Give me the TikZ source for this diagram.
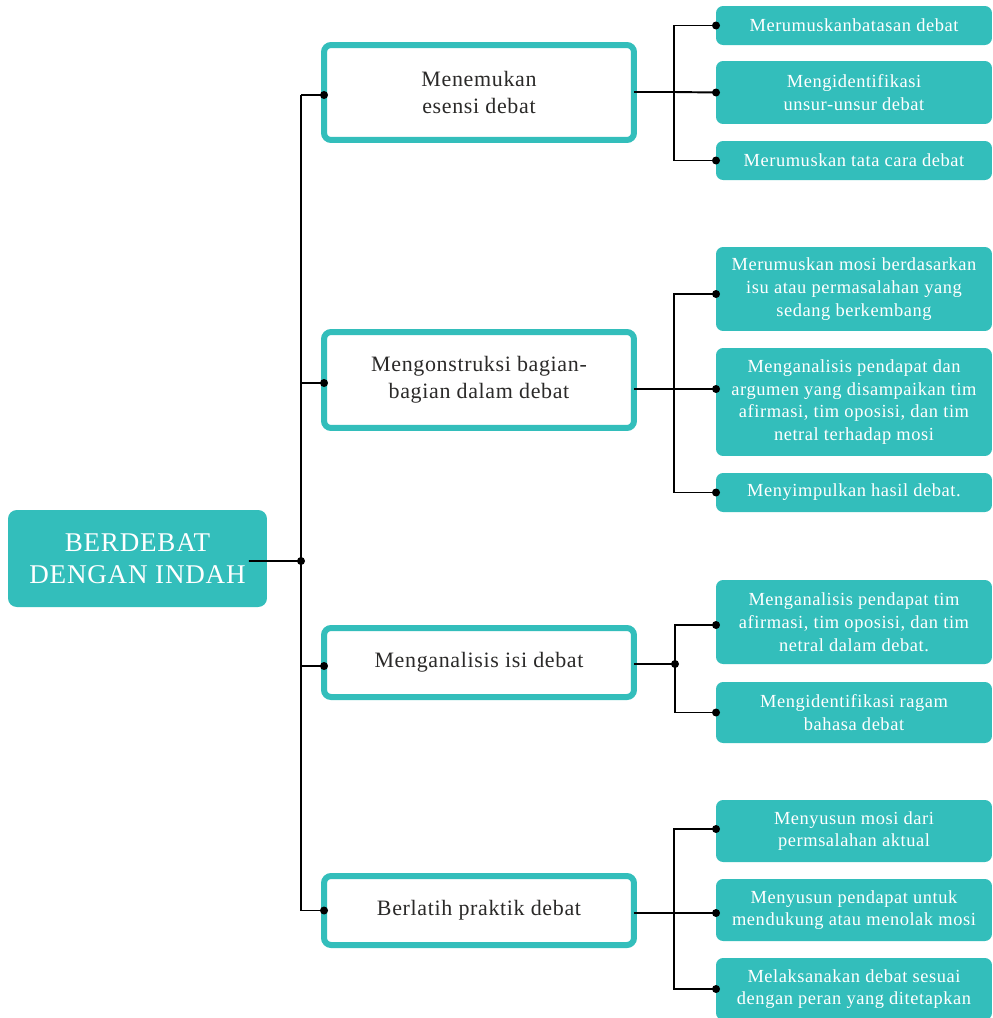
\documentclass[tikz,border=0pt]{standalone}
\usepackage{fontspec}
\setmainfont[LetterSpace=3]{Liberation Serif}
\usepackage{xcolor}
\usetikzlibrary{arrows.meta}
\definecolor{dbteal}{HTML}{33BEBB}
\definecolor{dbink}{HTML}{2B2A29}

\tikzset{
  rootbox/.style={fill=dbteal, rounded corners=5, inner sep=0pt, outer sep=0pt,
    minimum width=5.18cm, minimum height=1.94cm, align=center, text=white,
    font=\fontsize{15.4}{18.4}\selectfont},
  topicbox/.style={draw=dbteal, line width=0.12cm, rounded corners=4, fill=white,
    inner sep=0pt, outer sep=0pt, minimum width=6.2cm, align=center, text=dbink,
    font=\fontsize{12.5}{15.4}\selectfont},
  leafbox/.style={fill=dbteal, rounded corners=4, inner sep=0pt, outer sep=0pt,
    minimum width=5.52cm, align=center, text=white,
    font=\fontsize{10.5}{13}\selectfont},
  link/.style={black, line width=1.1pt},
  knot/.style={fill=black, radius=0.08cm},
}

\begin{document}
\begin{tikzpicture}[x=0.02cm, y=-0.02cm]
  % one unit is one pixel of the 992 x 1018 sheet, y runs downwards
  \useasboundingbox (0,0) rectangle (992,1018);

  % the title on the left
  \node[rootbox] (root) at (137.5,558.5) {BERDEBAT\\DENGAN INDAH};

  % the four steps
  \node[topicbox, minimum height=1.9cm]  (esensi)  at (479,92.5) {Menemukan\\esensi debat};
  \node[topicbox, minimum height=1.92cm] (bagian)  at (479,380)  {Mengonstruksi bagian-\\bagian dalam debat};
  \node[topicbox, minimum height=1.38cm] (isi)     at (479,662.5) {Menganalisis isi debat};
  \node[topicbox, minimum height=1.38cm] (praktik) at (479,910.5) {Berlatih praktik debat};

  % details of each step
  \node[leafbox, minimum height=0.78cm] (esA) at (854,25.5)  {Merumuskanbatasan debat};
  \node[leafbox, minimum height=1.26cm] (esB) at (854,92.5)  {Mengidentifikasi\\unsur-unsur debat};
  \node[leafbox, minimum height=0.78cm] (esC) at (854,160.5) {Merumuskan tata cara debat};

  \node[leafbox, minimum height=1.68cm] (bgA) at (854,289) {Merumuskan mosi berdasarkan\\isu atau permasalahan yang\\sedang berkembang};
  \node[leafbox, minimum height=2.16cm] (bgB) at (854,402) {Menganalisis pendapat dan\\argumen yang disampaikan tim\\afirmasi, tim oposisi, dan tim\\netral terhadap mosi};
  \node[leafbox, minimum height=0.78cm] (bgC) at (854,492.5) {Menyimpulkan hasil debat.};

  \node[leafbox, minimum height=1.68cm] (isA) at (854,622)   {Menganalisis pendapat tim\\afirmasi, tim oposisi, dan tim\\netral dalam debat.};
  \node[leafbox, minimum height=1.22cm] (isB) at (854,712.5) {Mengidentifikasi ragam\\bahasa debat};

  \node[leafbox, minimum height=1.24cm] (prA) at (854,831) {Menyusun mosi dari\\permsalahan aktual};
  \node[leafbox, minimum height=1.24cm] (prB) at (854,910) {Menyusun pendapat untuk\\mendukung atau menolak mosi};
  \node[leafbox, minimum height=1.24cm] (prC) at (854,989) {Melaksanakan debat sesuai\\dengan peran yang ditetapkan};

  % trunk from the title to the steps
  \coordinate (trunk) at (301,561);
  \draw[link] ([xshift=-0.36cm, yshift=-0.05cm]root.east) -- (trunk);
  \draw[link] ([yshift=-0.05cm]esensi.west -| trunk) -- (praktik.west -| trunk);
  \foreach \stp/\dy in {esensi/-0.05cm, bagian/-0.06cm, isi/-0.07cm, praktik/0cm} {
    \draw[link] ([yshift=\dy]\stp.west -| trunk) -- ([yshift=\dy]\stp.west);
    \fill[knot] ([yshift=\dy]\stp.west) circle;
  }
  \fill[knot] (trunk) circle;

  % brackets from the steps to their details
  \coordinate (esJ) at (674,92);
  \draw[link] (esJ -| esensi.east) -- (esJ);
  \draw[link] (esA.west) -| (esJ) |- (esC.west);
  \draw[link] (esJ) -- (esB.west);
  \foreach \lf in {esA, esB, esC}
    \fill[knot] (\lf.west) circle;

  \coordinate (bgJ) at (674,389);
  \draw[link] (bgJ -| bagian.east) -- (bgJ -| bgB.west);
  \draw[link] ([yshift=-0.1cm]bgA.west) -| (bgJ) |- (bgC.west);
  \fill[knot] ([yshift=-0.1cm]bgA.west) circle;
  \fill[knot] (bgJ -| bgB.west) circle;
  \fill[knot] (bgC.west) circle;

  \coordinate (isJ) at (675,664);
  \draw[link] (isJ -| isi.east) -- (isJ);
  \draw[link] ([yshift=-0.06cm]isA.west) -| (isJ) |- (isB.west);
  \fill[knot] (isJ) circle;
  \fill[knot] ([yshift=-0.06cm]isA.west) circle;
  \fill[knot] (isB.west) circle;

  \coordinate (prJ) at (674,913);
  \draw[link] (prJ -| praktik.east) -- (prJ -| prB.west);
  \draw[link] ([yshift=0.04cm]prA.west) -| (prJ) |- (prC.west);
  \fill[knot] ([yshift=0.04cm]prA.west) circle;
  \fill[knot] (prJ -| prB.west) circle;
  \fill[knot] (prC.west) circle;
\end{tikzpicture}
\end{document}
